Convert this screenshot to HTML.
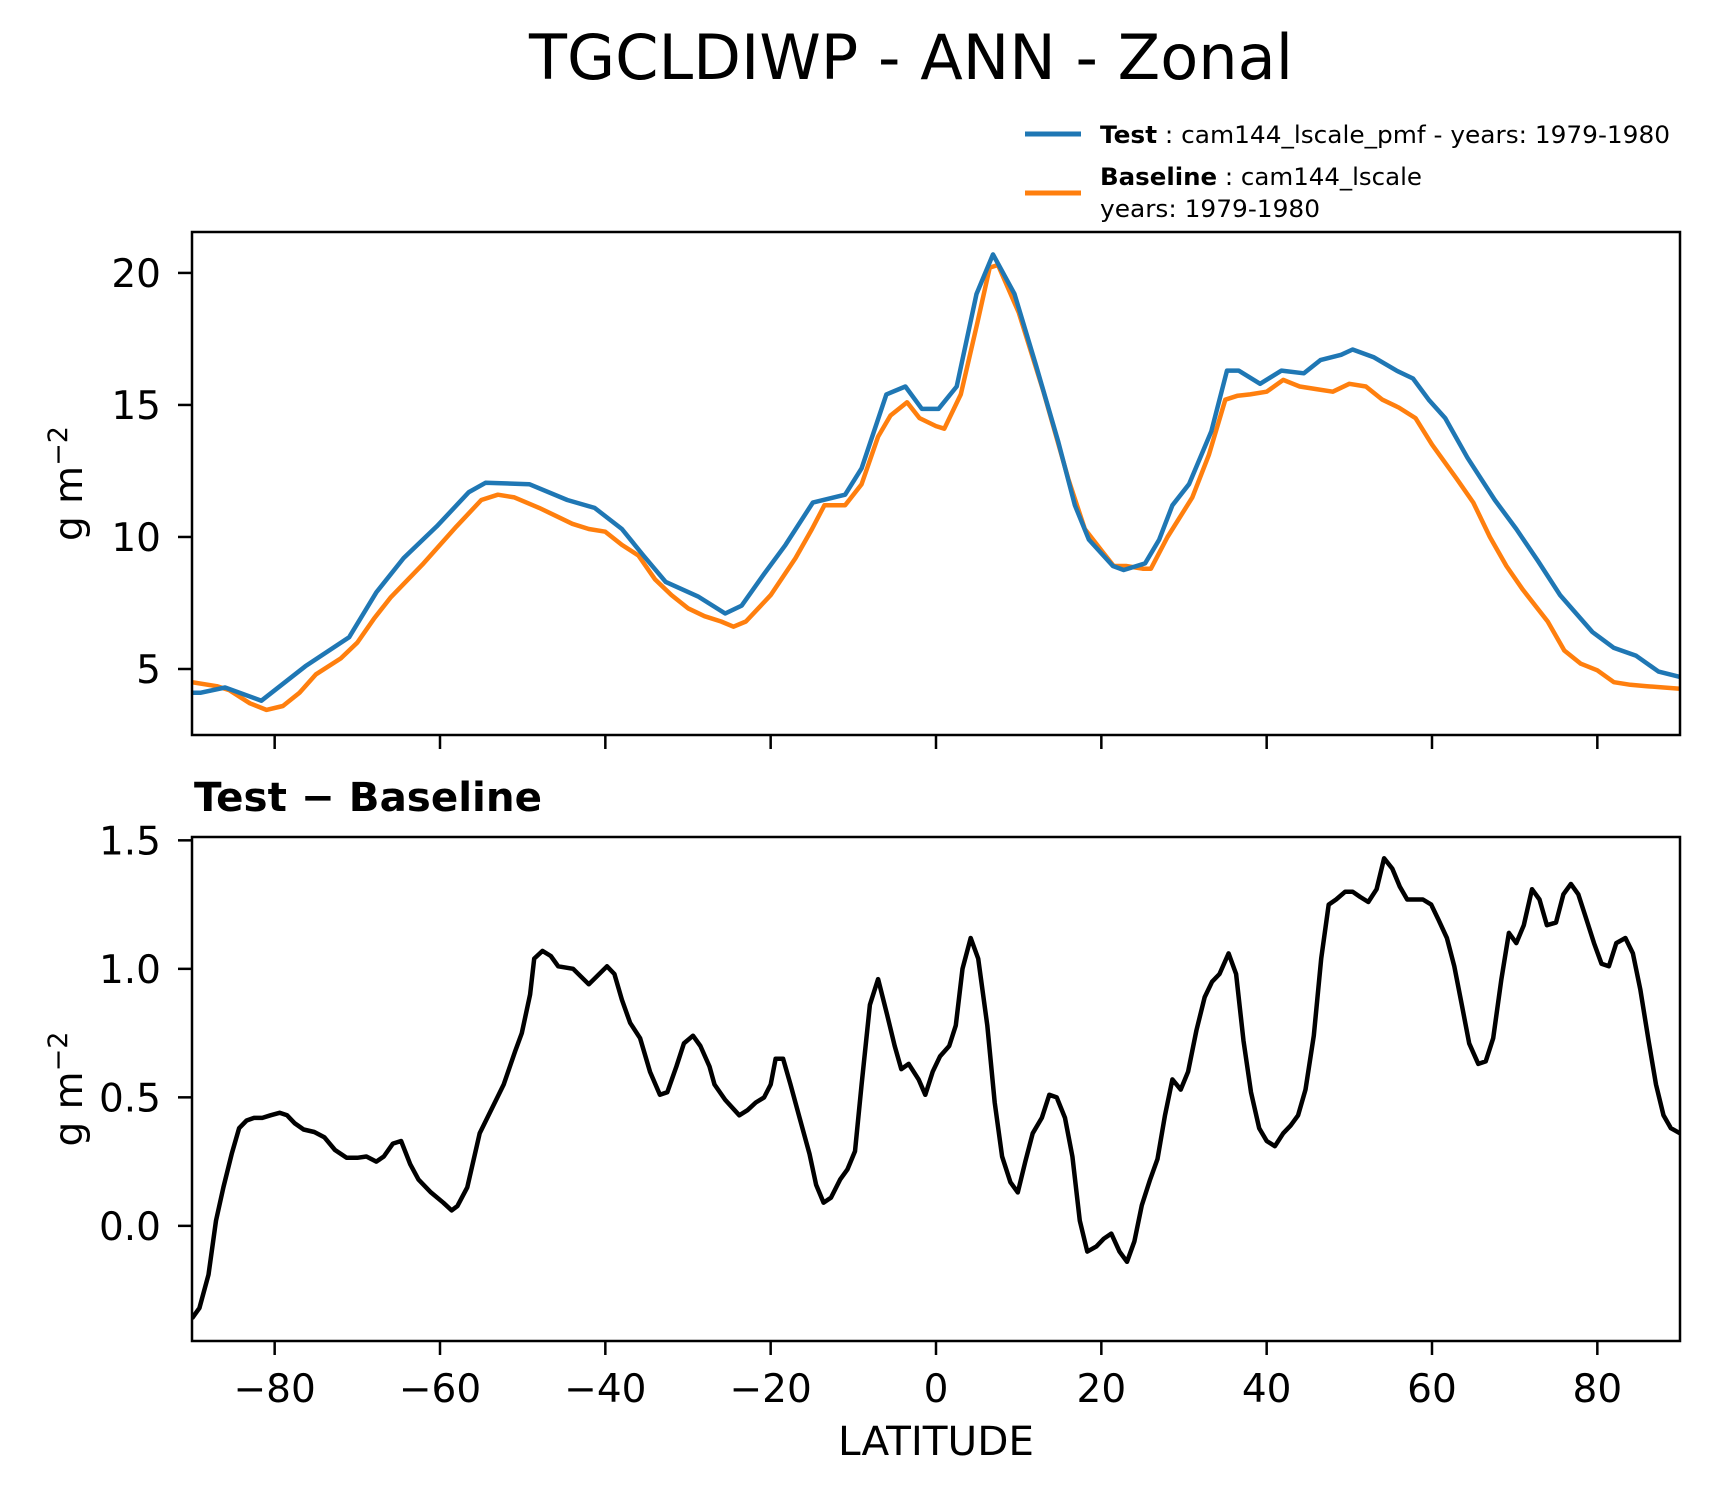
<!DOCTYPE html>
<html><head><meta charset="utf-8"><style>
html,body{margin:0;padding:0;background:#fff;}
svg{display:block;font-family:"DejaVu Sans","Liberation Sans",sans-serif;}
</style></head><body>
<svg id="fig" width="1710" height="1496" viewBox="0 0 1710 1496" xmlns="http://www.w3.org/2000/svg">
<rect width="1710" height="1496" fill="#fff"/>
<text x="911" y="79" font-size="62" text-anchor="middle" textLength="764" lengthAdjust="spacingAndGlyphs">TGCLDIWP - ANN - Zonal</text>
<g>
  <line x1="1025" y1="134" x2="1081" y2="134" stroke="#1f77b4" stroke-width="5"/>
  <text x="1100" y="143" font-size="24" textLength="570" lengthAdjust="spacingAndGlyphs"><tspan font-weight="bold">Test</tspan> : cam144_lscale_pmf - years: 1979-1980</text>
  <line x1="1025" y1="193" x2="1081" y2="193" stroke="#ff7f0e" stroke-width="5"/>
  <text x="1100" y="185" font-size="24" textLength="322" lengthAdjust="spacingAndGlyphs"><tspan font-weight="bold">Baseline</tspan> : cam144_lscale</text>
  <text x="1100" y="217" font-size="24" textLength="220" lengthAdjust="spacingAndGlyphs">years: 1979-1980</text>
</g>
<g id="top"></g>
<text x="194" y="811" font-size="40" font-weight="bold" textLength="348" lengthAdjust="spacingAndGlyphs">Test − Baseline</text>
<g id="bot"></g>
<text x="936" y="1455" font-size="40" text-anchor="middle" textLength="196" lengthAdjust="spacingAndGlyphs">LATITUDE</text>
</svg>
<script>
const testLat=[-90,-89,-86,-81.6,-76.3,-71,-67.7,-64.4,-60.4,-56.5,-54.5,-49.2,-44.6,-41.3,-38,-35.4,-32.7,-28.8,-25.5,-23.5,-20.8,-18.2,-14.9,-11,-9,-6,-3.7,-1.7,0.3,2.5,4.9,6.9,9.5,12.1,14.8,16.8,18.5,21.4,22.7,25.3,27,28.6,30.6,33.3,35.2,36.6,39.2,41.8,44.5,46.5,49,50.4,53,55.7,57.7,59.6,61.6,64.3,67.6,70.2,72.8,75.5,79.4,82,84.7,87.4,90];
const testVal=[4.1,4.1,4.3,3.8,5.1,6.2,7.9,9.2,10.4,11.7,12.05,12.0,11.4,11.1,10.3,9.3,8.3,7.75,7.1,7.4,8.6,9.7,11.3,11.6,12.6,15.4,15.7,14.85,14.85,15.7,19.2,20.7,19.2,16.5,13.6,11.2,9.9,8.9,8.75,9.0,9.9,11.2,12.0,14.0,16.3,16.3,15.8,16.3,16.2,16.7,16.9,17.1,16.8,16.3,16.0,15.2,14.5,13.0,11.4,10.3,9.1,7.8,6.4,5.8,5.5,4.9,4.7];
const baseLat=[-90,-87,-85.5,-83,-81,-79,-77,-75,-72,-70,-68,-66,-62,-58,-55,-53,-51,-48,-46,-44,-42,-40,-38,-36,-34,-32,-30,-28,-26,-24.5,-23,-20,-17,-15,-13.5,-11,-9,-7,-5.5,-3.5,-2,0,1,3,5,6.5,7.5,10,13,16,18,20,21.5,23,25,26,28,31,33,35,36.5,38,40,42,44,46,48,50,52,54,56,58,60,63,65,67,69,71,74,76,78,80,82,84,86,90];
const baseVal=[4.5,4.35,4.2,3.7,3.45,3.6,4.1,4.8,5.4,6.0,6.9,7.7,9.0,10.4,11.4,11.6,11.5,11.1,10.8,10.5,10.3,10.2,9.7,9.3,8.4,7.8,7.3,7.0,6.8,6.6,6.8,7.8,9.2,10.3,11.2,11.2,12.0,13.8,14.6,15.1,14.5,14.2,14.1,15.4,18.1,20.2,20.3,18.5,15.5,12.2,10.3,9.5,8.9,8.9,8.8,8.8,10.0,11.5,13.1,15.2,15.35,15.4,15.5,15.95,15.7,15.6,15.5,15.8,15.7,15.2,14.9,14.5,13.5,12.2,11.3,10.0,8.9,8.0,6.8,5.7,5.2,4.95,4.5,4.4,4.35,4.25];
const diffLat=[-90,-89.1,-88,-87.1,-86.2,-85.2,-84.3,-83.4,-82.5,-81.5,-80.5,-79.4,-78.5,-77.6,-76.5,-75.2,-74,-72.7,-71.3,-70,-68.9,-67.7,-66.8,-65.7,-64.7,-63.6,-62.6,-61.1,-59.6,-58.6,-57.9,-56.7,-55.2,-52.3,-50.9,-50.1,-49.1,-48.6,-47.6,-46.6,-45.7,-43.9,-42,-39.8,-38.9,-38,-37,-35.8,-34.6,-33.4,-32.5,-31.4,-30.5,-29.4,-28.5,-27.4,-26.8,-25.5,-23.8,-22.8,-21.8,-20.8,-20,-19.4,-18.5,-17.6,-16.5,-15.3,-14.5,-13.6,-12.7,-11.6,-10.7,-9.8,-9,-8,-7,-5.9,-5,-4.2,-3.3,-2.1,-1.3,-0.4,0.5,1.6,2.4,3.2,4.2,5.1,6.2,7.1,8,9,9.9,10.8,11.7,12.8,13.7,14.6,15.6,16.5,17.4,18.3,19.4,20.3,21.2,22.2,23.1,24,24.9,25.9,26.8,27.7,28.6,29.6,30.5,31.5,32.5,33.4,34.3,35.4,36.3,37.2,38.1,39.1,40,41,42,42.9,43.8,44.7,45.7,46.6,47.5,48.4,49.5,50.4,51.3,52.3,53.3,54.2,55.2,56.1,57,57.9,58.9,59.9,60.8,61.8,62.7,63.6,64.5,65.6,66.5,67.4,68.4,69.3,70.2,71.1,72.1,73,73.9,75,75.9,76.8,77.7,78.6,79.6,80.5,81.4,82.3,83.4,84.3,85.2,86.2,87.1,88,88.9,90];
const diffVal=[-0.36,-0.32,-0.19,0.02,0.15,0.28,0.38,0.41,0.42,0.42,0.43,0.44,0.43,0.40,0.375,0.365,0.345,0.295,0.265,0.265,0.27,0.25,0.27,0.32,0.33,0.24,0.18,0.13,0.09,0.06,0.077,0.15,0.36,0.55,0.68,0.75,0.9,1.04,1.07,1.05,1.01,1.0,0.94,1.01,0.98,0.88,0.79,0.73,0.6,0.51,0.52,0.62,0.71,0.74,0.7,0.62,0.55,0.49,0.43,0.45,0.48,0.5,0.55,0.65,0.65,0.55,0.42,0.28,0.16,0.09,0.11,0.18,0.22,0.29,0.55,0.86,0.96,0.82,0.7,0.61,0.63,0.57,0.51,0.6,0.66,0.7,0.78,1.0,1.12,1.04,0.78,0.48,0.27,0.17,0.13,0.25,0.36,0.42,0.51,0.5,0.42,0.27,0.02,-0.1,-0.08,-0.05,-0.03,-0.1,-0.14,-0.06,0.08,0.18,0.26,0.43,0.57,0.53,0.6,0.76,0.89,0.95,0.98,1.06,0.98,0.72,0.52,0.38,0.33,0.31,0.36,0.39,0.43,0.53,0.74,1.04,1.25,1.27,1.3,1.3,1.28,1.26,1.31,1.43,1.39,1.32,1.27,1.27,1.27,1.25,1.19,1.12,1.01,0.86,0.71,0.63,0.64,0.73,0.96,1.14,1.1,1.17,1.31,1.27,1.17,1.18,1.29,1.33,1.29,1.2,1.1,1.02,1.01,1.1,1.12,1.06,0.92,0.72,0.55,0.43,0.38,0.36];
const xTicks=[-80,-60,-40,-20,0,20,40,60,80];
const xTickLabels=["\u221280","\u221260","\u221240","\u221220","0","20","40","60","80"];
const topTicks=[5,10,15,20];
const topTickLabels=["5","10","15","20"];
const botTicks=[0,0.5,1.0,1.5];
const botTickLabels=["0.0","0.5","1.0","1.5"];

const NS="http://www.w3.org/2000/svg";
const L=192,R=1680;
const xs=v=>L+(v+90)/180*(R-L);
function mk(tag,attrs,parent){const e=document.createElementNS(NS,tag);for(const k in attrs)e.setAttribute(k,attrs[k]);parent.appendChild(e);return e;}
function panel(g,top,bot,ymin,ymax,ticks,labels,showX,name){
  const ys=v=>bot-(v-ymin)/(ymax-ymin)*(bot-top);
  xTicks.forEach((t,i)=>{
    const tk=mk('line',{x1:xs(t),x2:xs(t),y1:bot,y2:bot+14,stroke:'#000','stroke-width':2.5},g);
    
    
    if(showX){const tx=mk('text',{x:xs(t),y:bot+61,'font-size':39,'text-anchor':'middle'},g);tx.textContent=xTickLabels[i];
      
      }
  });
  ticks.forEach((t,i)=>{
    const tk=mk('line',{x1:L-14,x2:L,y1:ys(t),y2:ys(t),stroke:'#000','stroke-width':2.5},g);
    
    
    const tx=mk('text',{x:L-31,y:ys(t)+14,'font-size':39,'text-anchor':'end'},g);tx.textContent=labels[i];
    
    
  });
  const yl=mk('text',{x:0,y:0,'font-size':39,'text-anchor':'middle',transform:`translate(82,${(top+bot)/2}) rotate(-90)`},g);
  yl.innerHTML='g m<tspan dy="-15" font-size="27">\u22122</tspan>';
  
  
  return ys;
}
function series(g,lat,val,ys,color,w,nm){
  const d=lat.map((a,i)=>(i?'L':'M')+xs(a).toFixed(1)+' '+ys(val[i]).toFixed(1)).join(' ');
  const p=mk('path',{d:d,fill:'none',stroke:color,'stroke-width':w,'stroke-linejoin':'round','clip-path':'url(#clip-'+nm+')'},g);
  
  
}
const T1=232,B1=735,T2=837,B2=1341;
const defs=mk('defs',{},document.getElementById('fig'));
const c1=mk('clipPath',{id:'clip-test'},defs);mk('rect',{x:L,y:T1,width:R-L,height:B1-T1},c1);
const c2=mk('clipPath',{id:'clip-baseline'},defs);mk('rect',{x:L,y:T1,width:R-L,height:B1-T1},c2);
const c3=mk('clipPath',{id:'clip-difference'},defs);mk('rect',{x:L,y:T2,width:R-L,height:B2-T2},c3);

const gt=document.getElementById('top');
const ysT=panel(gt,T1,B1,2.5,21.55,topTicks,topTickLabels,false,'top');
series(gt,baseLat,baseVal,ysT,'#ff7f0e',4.5,'baseline');
series(gt,testLat,testVal,ysT,'#1f77b4',4.5,'test');
const f1=mk('rect',{x:L,y:T1,width:R-L,height:B1-T1,fill:'none',stroke:'#000','stroke-width':2.5},gt);



const gb=document.getElementById('bot');
const ysB=panel(gb,T2,B2,-0.448,1.513,botTicks,botTickLabels,true,'bottom');
series(gb,diffLat,diffVal,ysB,'#000',4.5,'difference');
const f2=mk('rect',{x:L,y:T2,width:R-L,height:B2-T2,fill:'none',stroke:'#000','stroke-width':2.5},gb);


</script>
</body></html>
